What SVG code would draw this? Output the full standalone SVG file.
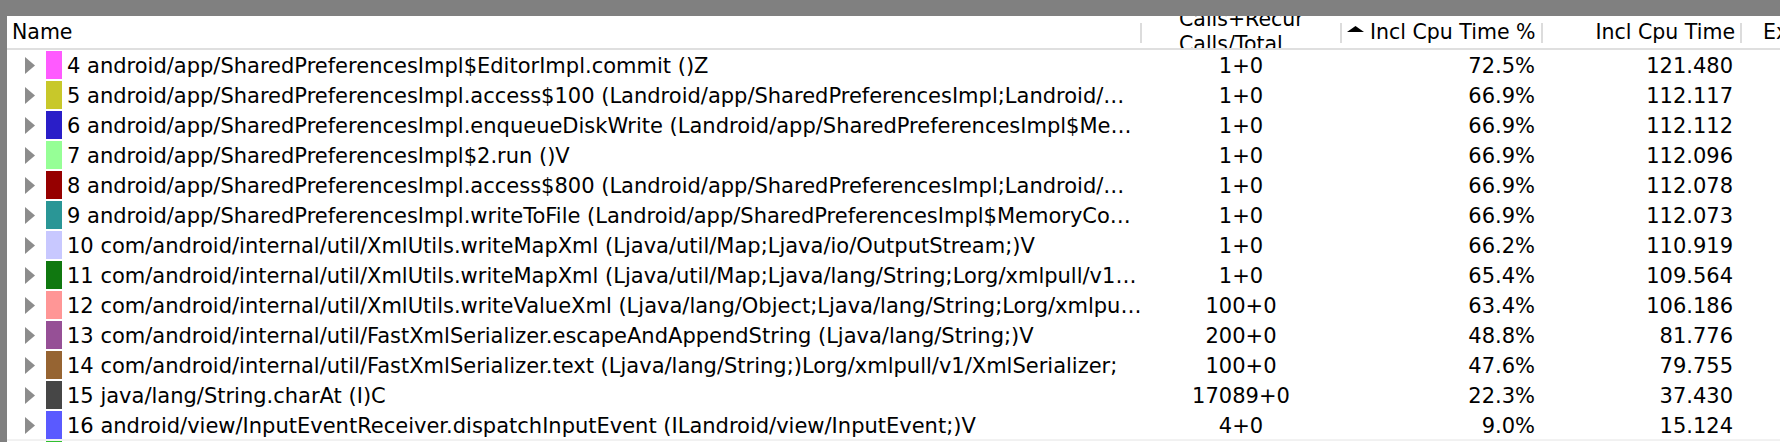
<svg xmlns="http://www.w3.org/2000/svg" width="1780" height="442" viewBox="0 0 1780 442">
<style>
.hd{font-family:"DejaVu Sans","Liberation Sans",sans-serif;font-size:20.5px;fill:#000}
.t{font-family:"DejaVu Sans","Liberation Sans",sans-serif;font-size:21px;fill:#000}
.c{text-anchor:middle}
.r{text-anchor:end}
.tri{fill:#8c8c8c}
.div{stroke:#dcdcdc;stroke-width:2}
</style>
<defs>
<clipPath id="hclip"><rect x="7" y="16" width="1773" height="32"/></clipPath>
<path id="exp" d="M0,-8.5 L10,0 L0,8.5 Z"/>
</defs>
<rect x="0" y="0" width="1780" height="442" fill="#ffffff"/>
<rect x="0" y="0" width="1780" height="16" fill="#808080"/>
<rect x="0" y="0" width="7" height="442" fill="#808080"/>
<g id="header" clip-path="url(#hclip)">
<text class="hd" x="12" y="39">Name</text>
<text class="hd" x="1179" y="26">Calls+Recur</text>
<text class="hd" x="1179" y="51">Calls/Total</text>
<path d="M1347,32 L1364,32 L1355.5,26 Z" fill="#000"/>
<text class="hd" x="1370" y="39">Incl Cpu Time %</text>
<text class="hd r" x="1735" y="39">Incl Cpu Time</text>
<text class="hd" x="1763" y="39">Ex</text>
<line class="div" x1="1141" y1="23" x2="1141" y2="43"/>
<line class="div" x1="1341" y1="23" x2="1341" y2="43"/>
<line class="div" x1="1542" y1="23" x2="1542" y2="43"/>
<line class="div" x1="1741" y1="23" x2="1741" y2="43"/>
</g>
<line x1="7" y1="49" x2="1780" y2="49" stroke="#d4d4d4" stroke-width="1.5"/>
<g id="row4"><use href="#exp" class="tri" x="25" y="65.5"/><rect x="46" y="51" width="16" height="28" fill="#ff5aff"/><text class="t" x="67" y="73">4 android/app/SharedPreferencesImpl$EditorImpl.commit ()Z</text><text class="t c" x="1241" y="73">1+0</text><text class="t r" x="1535" y="73">72.5%</text><text class="t r" x="1733" y="73">121.480</text></g>
<g id="row5"><use href="#exp" class="tri" x="25" y="95.5"/><rect x="46" y="81" width="16" height="28" fill="#c8c82a"/><text class="t" x="67" y="103">5 android/app/SharedPreferencesImpl.access$100 (Landroid/app/SharedPreferencesImpl;Landroid/…</text><text class="t c" x="1241" y="103">1+0</text><text class="t r" x="1535" y="103">66.9%</text><text class="t r" x="1733" y="103">112.117</text></g>
<g id="row6"><use href="#exp" class="tri" x="25" y="125.5"/><rect x="46" y="111" width="16" height="28" fill="#2a1ec8"/><text class="t" x="67" y="133">6 android/app/SharedPreferencesImpl.enqueueDiskWrite (Landroid/app/SharedPreferencesImpl$Me…</text><text class="t c" x="1241" y="133">1+0</text><text class="t r" x="1535" y="133">66.9%</text><text class="t r" x="1733" y="133">112.112</text></g>
<g id="row7"><use href="#exp" class="tri" x="25" y="155.5"/><rect x="46" y="141" width="16" height="28" fill="#96ff96"/><text class="t" x="67" y="163">7 android/app/SharedPreferencesImpl$2.run ()V</text><text class="t c" x="1241" y="163">1+0</text><text class="t r" x="1535" y="163">66.9%</text><text class="t r" x="1733" y="163">112.096</text></g>
<g id="row8"><use href="#exp" class="tri" x="25" y="185.5"/><rect x="46" y="171" width="16" height="28" fill="#960000"/><text class="t" x="67" y="193">8 android/app/SharedPreferencesImpl.access$800 (Landroid/app/SharedPreferencesImpl;Landroid/…</text><text class="t c" x="1241" y="193">1+0</text><text class="t r" x="1535" y="193">66.9%</text><text class="t r" x="1733" y="193">112.078</text></g>
<g id="row9"><use href="#exp" class="tri" x="25" y="215.5"/><rect x="46" y="201" width="16" height="28" fill="#2a9696"/><text class="t" x="67" y="223">9 android/app/SharedPreferencesImpl.writeToFile (Landroid/app/SharedPreferencesImpl$MemoryCo…</text><text class="t c" x="1241" y="223">1+0</text><text class="t r" x="1535" y="223">66.9%</text><text class="t r" x="1733" y="223">112.073</text></g>
<g id="row10"><use href="#exp" class="tri" x="25" y="245.5"/><rect x="46" y="231" width="16" height="28" fill="#c8c8ff"/><text class="t" x="67" y="253">10 com/android/internal/util/XmlUtils.writeMapXml (Ljava/util/Map;Ljava/io/OutputStream;)V</text><text class="t c" x="1241" y="253">1+0</text><text class="t r" x="1535" y="253">66.2%</text><text class="t r" x="1733" y="253">110.919</text></g>
<g id="row11"><use href="#exp" class="tri" x="25" y="275.5"/><rect x="46" y="261" width="16" height="28" fill="#107810"/><text class="t" x="67" y="283">11 com/android/internal/util/XmlUtils.writeMapXml (Ljava/util/Map;Ljava/lang/String;Lorg/xmlpull/v1…</text><text class="t c" x="1241" y="283">1+0</text><text class="t r" x="1535" y="283">65.4%</text><text class="t r" x="1733" y="283">109.564</text></g>
<g id="row12"><use href="#exp" class="tri" x="25" y="305.5"/><rect x="46" y="291" width="16" height="28" fill="#ff9696"/><text class="t" x="67" y="313">12 com/android/internal/util/XmlUtils.writeValueXml (Ljava/lang/Object;Ljava/lang/String;Lorg/xmlpu…</text><text class="t c" x="1241" y="313">100+0</text><text class="t r" x="1535" y="313">63.4%</text><text class="t r" x="1733" y="313">106.186</text></g>
<g id="row13"><use href="#exp" class="tri" x="25" y="335.5"/><rect x="46" y="321" width="16" height="28" fill="#965096"/><text class="t" x="67" y="343">13 com/android/internal/util/FastXmlSerializer.escapeAndAppendString (Ljava/lang/String;)V</text><text class="t c" x="1241" y="343">200+0</text><text class="t r" x="1535" y="343">48.8%</text><text class="t r" x="1733" y="343">81.776</text></g>
<g id="row14"><use href="#exp" class="tri" x="25" y="365.5"/><rect x="46" y="351" width="16" height="28" fill="#966432"/><text class="t" x="67" y="373">14 com/android/internal/util/FastXmlSerializer.text (Ljava/lang/String;)Lorg/xmlpull/v1/XmlSerializer;</text><text class="t c" x="1241" y="373">100+0</text><text class="t r" x="1535" y="373">47.6%</text><text class="t r" x="1733" y="373">79.755</text></g>
<g id="row15"><use href="#exp" class="tri" x="25" y="395.5"/><rect x="46" y="381" width="16" height="28" fill="#464646"/><text class="t" x="67" y="403">15 java/lang/String.charAt (I)C</text><text class="t c" x="1241" y="403">17089+0</text><text class="t r" x="1535" y="403">22.3%</text><text class="t r" x="1733" y="403">37.430</text></g>
<g id="row16"><use href="#exp" class="tri" x="25" y="425.5"/><rect x="46" y="411" width="16" height="28" fill="#5a5aff"/><text class="t" x="67" y="433">16 android/view/InputEventReceiver.dispatchInputEvent (ILandroid/view/InputEvent;)V</text><text class="t c" x="1241" y="433">4+0</text><text class="t r" x="1535" y="433">9.0%</text><text class="t r" x="1733" y="433">15.124</text></g>
<line x1="7" y1="440" x2="1780" y2="440" stroke="#e4e4e4" stroke-width="1"/>
<rect x="46" y="441" width="16" height="2" fill="#30c030"/>
</svg>
